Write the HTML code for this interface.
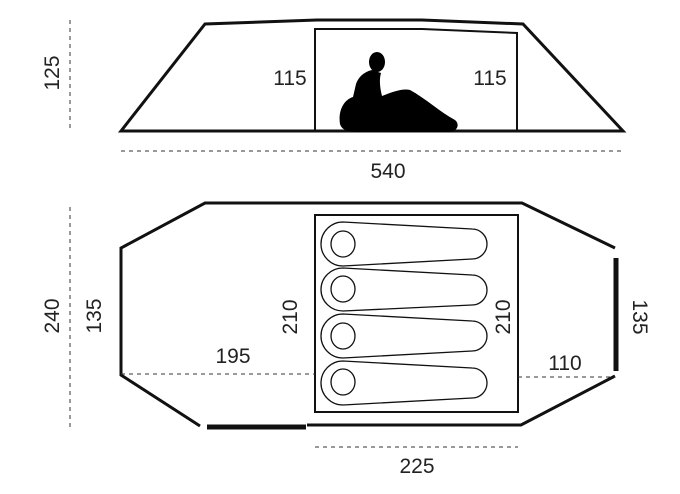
<!DOCTYPE html>
<html><head><style>
html,body{margin:0;padding:0;background:#fff;}
svg{display:block;}
text{font-family:"Liberation Sans",sans-serif;font-size:21px;fill:#222;font-weight:normal;}
</style></head><body>
<svg width="680" height="494" viewBox="0 0 680 494" xmlns="http://www.w3.org/2000/svg">
<g fill="none" stroke="#111" stroke-linejoin="miter">
<path d="M121,131 L205,24 L317,20 L422,20 L523,24 L623,131 Z" stroke-width="3"/>
<path d="M315,131 L315,29 L422,29 L517,33 L517,131" stroke-width="2"/>
<path d="M200,426 L121,375 L121,248 L205,203 L522,203 L615,248" stroke-width="3"/>
<path d="M307,425 L521,425 L615,376" stroke-width="3"/>
<line x1="207" y1="427" x2="306" y2="427" stroke-width="5"/>
<line x1="616" y1="258" x2="616" y2="371" stroke-width="5"/>
<rect x="315" y="215" width="203" height="197" stroke-width="2"/>
<g stroke-width="1.3">
<path d="M343,222 L472,229 A15,15 0 0 1 472,259 L343,266 A22,22 0 0 1 343,222 Z"/>
<ellipse cx="343" cy="244" rx="12" ry="13"/>
<path d="M343,268 L472,275 A15,15 0 0 1 472,305 L343,311 A22,21.5 0 0 1 343,268 Z"/>
<ellipse cx="343" cy="289" rx="12" ry="13"/>
<path d="M343,314 L472,321 A15,15 0 0 1 472,351 L343,358 A22,22 0 0 1 343,314 Z"/>
<ellipse cx="343" cy="336" rx="12" ry="13"/>
<path d="M343,361 L472,368 A15,15 0 0 1 472,398 L343,405 A22,22 0 0 1 343,361 Z"/>
<ellipse cx="343" cy="382" rx="12" ry="13"/>
</g>
</g>
<g stroke="#333" stroke-width="1" stroke-dasharray="4,4" fill="none">
<line x1="121" y1="151" x2="623" y2="151"/>
<line x1="70" y1="20" x2="70" y2="131"/>
<line x1="70" y1="207" x2="70" y2="427"/>
<line x1="121" y1="374" x2="315" y2="374"/>
<line x1="518" y1="377" x2="615" y2="377"/>
<line x1="315" y1="447" x2="518" y2="447"/>
</g>
<g fill="#000">
<ellipse cx="377" cy="62" rx="8" ry="10"/>
<path d="M372,70 C363,72 358,78 356,84 L353,97 C343,100 338,112 340,124 C342,131 350,132 360,132 L448,132 C458,132 460,124 455,120 C440,112 425,98 410,90 C402,88 390,93 382,96 C380,88 379,80 381,73 Z"/>
</g>
<text x="290" y="85" text-anchor="middle">115</text>
<text x="490" y="85" text-anchor="middle">115</text>
<text x="388" y="178" text-anchor="middle">540</text>
<text x="233" y="363" text-anchor="middle">195</text>
<text x="565" y="370" text-anchor="middle">110</text>
<text x="417" y="473" text-anchor="middle">225</text>
<text transform="translate(59,73) rotate(-90)" text-anchor="middle">125</text>
<text transform="translate(59,316) rotate(-90)" text-anchor="middle">240</text>
<text transform="translate(101,316) rotate(-90)" text-anchor="middle">135</text>
<text transform="translate(297,317) rotate(-90)" text-anchor="middle">210</text>
<text transform="translate(510,317) rotate(-90)" text-anchor="middle">210</text>
<text transform="translate(633,317) rotate(90)" text-anchor="middle">135</text>
</svg>
</body></html>
